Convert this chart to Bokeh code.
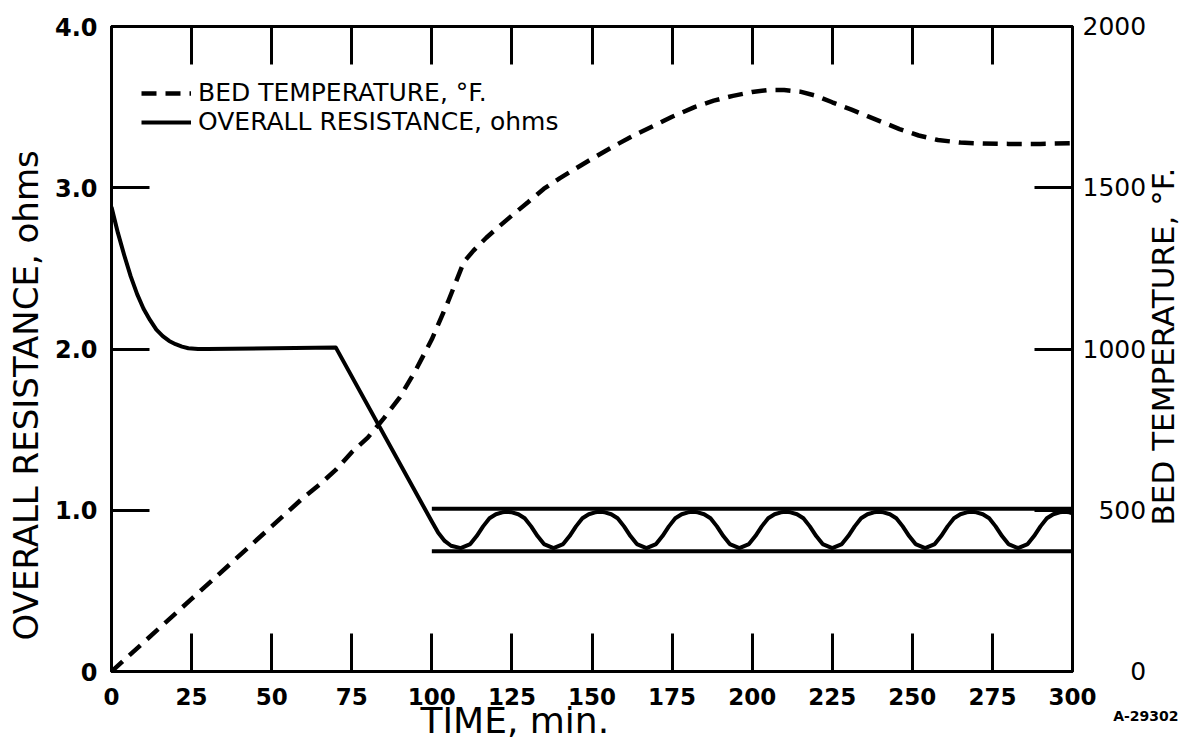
import math
from bokeh.plotting import figure
from bokeh.models import Range1d, LinearAxis, FixedTicker, Legend, LegendItem, Title
from bokeh.embed import file_html
from bokeh.resources import INLINE

# ---------------- data ----------------
time_ticks = [0, 25, 50, 75, 100, 125, 150, 175, 200, 225, 250, 275, 300]
res_ticks = [0, 1, 2, 3, 4]
res_tick_labels = ["0", "1.0", "2.0", "3.0", "4.0"]
temp_ticks = [0, 500, 1000, 1500, 2000]
temp_tick_labels = ["0", "500", "1000", "1500", "2000"]

# Bed temperature, deg F (dashed)
temp_time = [0, 25, 50, 60, 65, 70, 75, 80, 85, 90, 95, 100, 105, 110, 113, 117,
             121, 125, 130, 135, 140, 145, 150, 157, 163, 169, 175, 182, 188, 194,
             200, 205, 210, 215, 220, 225, 231, 236, 241, 246, 252, 258, 265, 272,
             280, 290, 300]
temp_val = [0, 225, 450, 540, 580, 625, 680, 725, 785, 850, 935, 1030, 1145, 1270,
            1305, 1345, 1380, 1414, 1455, 1497, 1530, 1560, 1590, 1630, 1662, 1691,
            1720, 1750, 1770, 1785, 1797, 1803, 1803, 1798, 1785, 1765, 1742, 1722,
            1702, 1682, 1662, 1648, 1640, 1637, 1636, 1636, 1638]

# Overall resistance, ohms (solid)
res_time = [0, 2, 4, 6, 8, 10, 12, 14, 16, 18, 20, 22, 24, 27, 30, 70,
            100, 102, 104, 106, 109,
            112, 114, 116, 118, 120, 122, 123.5, 125, 127, 129, 131, 133, 135, 138,
            141, 143, 145, 147, 149, 151, 152.5, 154, 156, 158, 160, 162, 164, 167,
            170, 172, 174, 176, 178, 180, 181.5, 183, 185, 187, 189, 191, 193, 196,
            199, 201, 203, 205, 207, 209, 210.5, 212, 214, 216, 218, 220, 222, 225,
            228, 230, 232, 234, 236, 238, 239.5, 241, 243, 245, 247, 249, 251, 254,
            257, 259, 261, 263, 265, 267, 268.5, 270, 272, 274, 276, 278, 280, 283,
            286, 288, 290, 292, 294, 296, 297.5, 299, 300]
res_val = [2.88, 2.72, 2.58, 2.45, 2.34, 2.25, 2.18, 2.12, 2.08, 2.05, 2.03, 2.015, 2.005, 2.0, 2.0, 2.01,
           0.93, 0.86, 0.81, 0.78, 0.765,
           0.79, 0.84, 0.90, 0.95, 0.975, 0.987, 0.99, 0.987, 0.975, 0.95, 0.90, 0.84, 0.79, 0.765,
           0.79, 0.84, 0.90, 0.95, 0.975, 0.987, 0.99, 0.987, 0.975, 0.95, 0.90, 0.84, 0.79, 0.765,
           0.79, 0.84, 0.90, 0.95, 0.975, 0.987, 0.99, 0.987, 0.975, 0.95, 0.90, 0.84, 0.79, 0.765,
           0.79, 0.84, 0.90, 0.95, 0.975, 0.987, 0.99, 0.987, 0.975, 0.95, 0.90, 0.84, 0.79, 0.765,
           0.79, 0.84, 0.90, 0.95, 0.975, 0.987, 0.99, 0.987, 0.975, 0.95, 0.90, 0.84, 0.79, 0.765,
           0.79, 0.84, 0.90, 0.95, 0.975, 0.987, 0.99, 0.987, 0.975, 0.95, 0.90, 0.84, 0.79, 0.765,
           0.79, 0.84, 0.90, 0.95, 0.975, 0.987, 0.99, 0.987, 0.98]

# Control band limits (resistance, ohms)
band_time = [100, 300]
band_upper = [1.01, 1.01]
band_lower = [0.745, 0.745]

# ---------------- figure ----------------
FONT = "DejaVu Sans"
p = figure(width=1204, height=742, x_range=Range1d(0, 300), y_range=Range1d(0, 4),
           output_backend="svg", toolbar_location=None,
           x_axis_location=None, y_axis_location=None,
           min_border_left=111, min_border_right=132,
           min_border_top=26, min_border_bottom=71)
p.extra_y_ranges = {"temp": Range1d(0, 2000)}
p.grid.visible = False
p.outline_line_color = "black"
p.outline_line_width = 3
p.background_fill_color = "white"
p.border_fill_color = "white"


def style_axis(ax, size, weight, standoff, show=True):
    ax.axis_line_width = 3
    ax.axis_line_color = "black"
    ax.major_tick_in = 38
    ax.major_tick_out = 0
    ax.major_tick_line_width = 3
    ax.major_tick_line_color = "black"
    ax.minor_tick_line_color = None
    ax.major_label_standoff = standoff
    if show:
        ax.major_label_text_font = FONT
        ax.major_label_text_font_size = size
        ax.major_label_text_font_style = weight
        ax.major_label_text_color = "black"
    else:
        ax.major_label_text_font_size = "0px"
        ax.major_label_text_color = None


def set_standoff(obj, val, fallback=0):
    try:
        obj.standoff = val
    except Exception:
        obj.standoff = fallback


xb = LinearAxis(ticker=FixedTicker(ticks=time_ticks))
style_axis(xb, "23px", "bold", 16)
p.add_layout(xb, "below")

xt = LinearAxis(ticker=FixedTicker(ticks=time_ticks))
style_axis(xt, "0px", "normal", 0, show=False)
p.add_layout(xt, "above")

yl = LinearAxis(ticker=FixedTicker(ticks=res_ticks),
                major_label_overrides={t: s for t, s in zip(res_ticks, res_tick_labels)})
style_axis(yl, "24px", "bold", 14)
p.add_layout(yl, "left")

# right labels right-aligned: pad with no-break spaces (two = one digit width)
maxlen = max(len(s) for s in temp_tick_labels)
right_labels = {t: "\u00a0\u00a0" * (maxlen - len(s)) + s
                for t, s in zip(temp_ticks, temp_tick_labels)}
yr = LinearAxis(y_range_name="temp", ticker=FixedTicker(ticks=temp_ticks),
                major_label_overrides=right_labels)
style_axis(yr, "25px", "normal", 10)
p.add_layout(yr, "right")

# right-hand axis title, reading bottom-to-top: carried as the single rotated
# label of a bare axis, starting at the height where the reference title starts
TITLE_START_TEMP = 453
yr_title = LinearAxis(y_range_name="temp", ticker=FixedTicker(ticks=[TITLE_START_TEMP]),
                      major_label_overrides={TITLE_START_TEMP: "BED TEMPERATURE, °F."},
                      major_label_orientation=math.pi / 2)
yr_title.axis_line_color = None
yr_title.major_tick_line_color = None
yr_title.minor_tick_line_color = None
yr_title.major_tick_in = 0
yr_title.major_tick_out = 0
yr_title.major_label_standoff = 14
yr_title.major_label_text_font = FONT
yr_title.major_label_text_font_size = "31px"
yr_title.major_label_text_font_style = "normal"
yr_title.major_label_text_color = "black"
p.add_layout(yr_title, "right")

# ---------------- axis titles as side-panel titles ----------------
t_left = Title(text="OVERALL RESISTANCE, ohms", align="left", offset=31,
               vertical_align="top", text_font=FONT, text_font_size="34px",
               text_font_style="normal", text_color="black")
set_standoff(t_left, 8)
p.add_layout(t_left, "left")

t_time = Title(text="TIME, min.", align="left", offset=309, vertical_align="top",
               text_font=FONT, text_font_size="36px", text_font_style="normal",
               text_color="black")
set_standoff(t_time, -16)
p.add_layout(t_time, "below")

t_note = Title(text="A-29302", align="right", offset=-106, vertical_align="top",
               text_font=FONT, text_font_size="14px", text_font_style="bold",
               text_color="black")
set_standoff(t_note, -54)
p.add_layout(t_note, "below")

# ---------------- data marks ----------------
r_temp = p.line(temp_time, temp_val, y_range_name="temp", line_color="black",
                line_width=4.5, line_dash="15 9")
r_res = p.line(res_time, res_val, line_color="black", line_width=4, line_join="round")
p.line(band_time, band_upper, line_color="black", line_width=4)
p.line(band_time, band_lower, line_color="black", line_width=4)

# ---------------- legend ----------------
legend = Legend(items=[LegendItem(label="BED TEMPERATURE, °F.", renderers=[r_temp]),
                       LegendItem(label="OVERALL RESISTANCE, ohms", renderers=[r_res])],
                location=(30, 535), orientation="vertical",
                label_text_font=FONT, label_text_font_size="25px",
                label_text_color="black",
                glyph_width=50, glyph_height=24, label_height=24, label_standoff=7,
                spacing=0, padding=0, margin=0,
                border_line_color=None, background_fill_alpha=0)
p.add_layout(legend, "center")

open("out.html", "w").write(file_html(p, INLINE))
